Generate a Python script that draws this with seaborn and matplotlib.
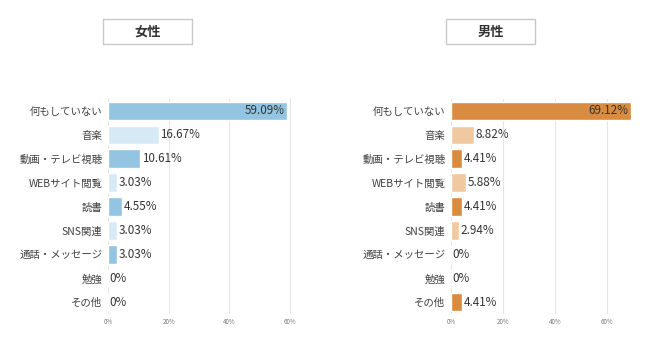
import matplotlib
matplotlib.use("Agg")
import matplotlib.pyplot as plt
import seaborn as sns
import pandas as pd
from matplotlib.patches import Rectangle

sns.set_style("white")
plt.rcParams['font.family'] = ['Noto Sans CJK JP', 'DejaVu Sans']

categories = ["何もしていない", "音楽", "動画・テレビ視聴", "WEBサイト閲覧", "読書",
              "SNS関連", "通話・メッセージ", "勉強", "その他"]
female_values = [59.09, 16.67, 10.61, 3.03, 4.55, 3.03, 3.03, 0, 0]
male_values = [69.12, 8.82, 4.41, 5.88, 4.41, 2.94, 0, 0, 4.41]
female_labels = ["59.09%", "16.67%", "10.61%", "3.03%", "4.55%", "3.03%", "3.03%", "0%", "0%"]
male_labels = ["69.12%", "8.82%", "4.41%", "5.88%", "4.41%", "2.94%", "0%", "0%", "4.41%"]
x_ticks = [0, 20, 40, 60]
x_tick_labels = ["0%", "20%", "40%", "60%"]
panel_titles = ["女性", "男性"]

female_colors = ["#93c4e1", "#d6e9f4"]
male_colors = ["#d98b40", "#f1c9a1"]

fig = plt.figure(figsize=(6.5, 3.48), dpi=100)
W, H = 650, 348

def px_axes(x0, x1, y0, y1):
    return fig.add_axes([x0 / W, 1 - y1 / H, (x1 - x0) / W, (y1 - y0) / H])

ax_f = px_axes(108, 296, 99, 314)
ax_m = px_axes(451, 633, 99, 314)

panels = [
    (ax_f, female_values, female_labels, female_colors, 62, 147.5),
    (ax_m, male_values, male_labels, male_colors, 70, 490.5),
]

for i, (ax, vals, labs, cols, xmax, cx) in enumerate(panels):
    df = pd.DataFrame({"cat": categories, "val": vals})
    pal = {c: cols[j % 2] for j, c in enumerate(categories)}
    sns.barplot(data=df, x="val", y="cat", hue="cat", palette=pal, legend=False,
                ax=ax, width=0.78, orient="h", saturation=1, zorder=3)
    ax.set_xlim(0, xmax)
    ax.set_ylim(8.5, -0.5)
    ax.set_xticks(x_ticks)
    ax.set_xticklabels(x_tick_labels, fontsize=4.5, color="#777777")
    ax.grid(axis="x", color="#e6e6e6", linewidth=0.8, zorder=0)
    ax.set_axisbelow(True)
    for s in ax.spines.values():
        s.set_visible(False)
    ax.tick_params(axis="y", length=0, pad=4, labelsize=7.5, labelcolor="#404040")
    ax.tick_params(axis="x", length=0, pad=3)
    ax.set_xlabel("")
    ax.set_ylabel("")
    for j, (v, t) in enumerate(zip(vals, labs)):
        if v > 0.8 * xmax:
            ax.text(v - 0.8, j, t, ha="right", va="center", fontsize=8.4, color="#333333", zorder=4)
        else:
            ax.text(v + 0.6, j, t, ha="left", va="center", fontsize=8.4, color="#333333", zorder=4)
    # title box
    bx0, bw, by0, bh = cx - 44.5, 89, 19, 25
    fig.patches.append(Rectangle((bx0 / W, 1 - (by0 + bh) / H), bw / W, bh / H,
                                 transform=fig.transFigure, facecolor="white",
                                 edgecolor="#c8c8c8", linewidth=1.0))
    fig.text(cx / W, 1 - (by0 + bh / 2) / H, panel_titles[i], ha="center", va="center",
             fontsize=9.5, fontweight="bold", color="#333333")

fig.savefig("out.png", dpi=100)
